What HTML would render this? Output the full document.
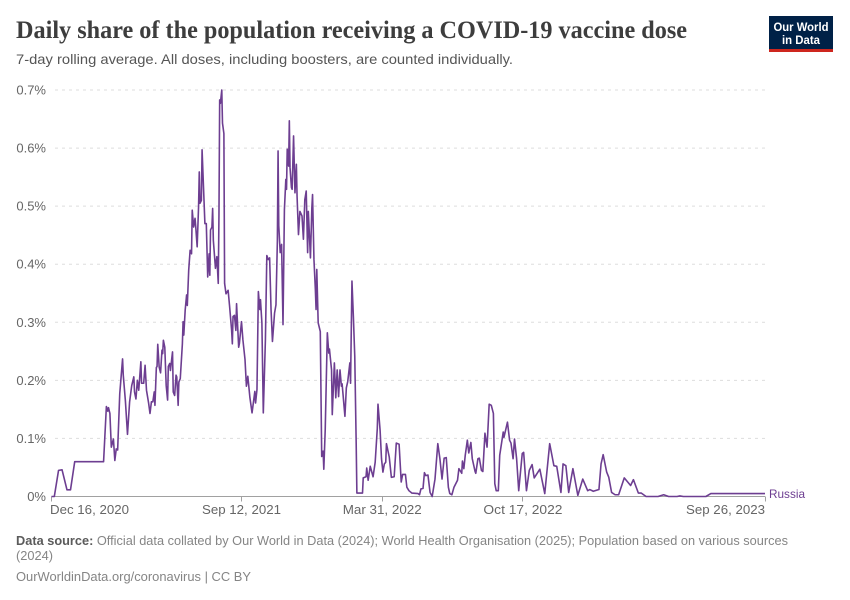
<!DOCTYPE html>
<html lang="en">
<head>
<meta charset="utf-8">
<title>Daily share of the population receiving a COVID-19 vaccine dose</title>
<style>
html,body{margin:0;padding:0;background:#fff;width:850px;height:600px;overflow:hidden}
svg{display:block;font-family:"Liberation Sans",sans-serif}
</style>
</head>
<body>
<svg id="chart" width="850" height="600" viewBox="0 0 850 600" xmlns="http://www.w3.org/2000/svg">
  <rect width="850" height="600" fill="#fff"/>
  <text x="16" y="38" font-family="'Liberation Serif',serif" font-weight="700" font-size="25" fill="#3d3d3d" textLength="671" lengthAdjust="spacingAndGlyphs">Daily share of the population receiving a COVID-19 vaccine dose</text>
  <text x="16" y="64" font-size="14" fill="#555" textLength="497" lengthAdjust="spacingAndGlyphs">7-day rolling average. All doses, including boosters, are counted individually.</text>
  <g>
    <rect x="769" y="16" width="64" height="36" fill="#002147"/>
    <rect x="769" y="49" width="64" height="3" fill="#ce261e"/>
    <text x="801" y="31" font-size="12" font-weight="700" fill="#fff" text-anchor="middle" textLength="55" lengthAdjust="spacingAndGlyphs">Our World</text>
    <text x="801" y="44" font-size="12" font-weight="700" fill="#fff" text-anchor="middle" textLength="38" lengthAdjust="spacingAndGlyphs">in Data</text>
  </g>
  <g id="y-axis"></g>
  <g id="x-axis"></g>
  <g id="series"></g>
  <text x="769" y="498" font-size="12" fill="#6d3e91" textLength="36" lengthAdjust="spacingAndGlyphs">Russia</text>
  <text x="16" y="545" font-size="13" fill="#858585" textLength="772" lengthAdjust="spacingAndGlyphs"><tspan font-weight="700" fill="#5b5b5b">Data source:</tspan> Official data collated by Our World in Data (2024); World Health Organisation (2025); Population based on various sources</text>
  <text x="16" y="560" font-size="13" fill="#858585" textLength="37" lengthAdjust="spacingAndGlyphs">(2024)</text>
  <text x="16" y="581" font-size="13" fill="#858585" textLength="235" lengthAdjust="spacingAndGlyphs">OurWorldinData.org/coronavirus | CC BY</text>
</svg>
<script>
const seriesName = 'Russia';
const dayOffsets = [
0,4,10,15,22,27,33,74,78,80,81,83,85,88,90,92,94,97,101,102,105,108,111,114,117,118,120,122,124,127,128,131,133,135,138,140,142,144,146,147,149,150,151,153,155,157,158,159,161,163,165,166,168,169,172,173,175,177,178,180,181,183,186,187,188,190,192,193,195,197,199,200,202,204,205,207,209,210,211,213,214,216,218,220,222,224,225,226,228,229,230,233,235,237,238,239,240,242,243,245,246,248,251,253,256,257,258,260,262,263,266,267,270,
272,275,277,279,282,285,289,290,292,294,296,297,299,301,304,306,308,310,312,314,317,319,321,322,323,325,327,329,331,333,334,335,337,338,339,341,342,344,346,348,349,351,353,356,358,360,362,364,365,368,370,371,373,375,376,377,379,382,384,386,387,389,392,394,395,398,399,402,404,406,408,410,412,413,417,419,421,424,425,427,429,431,433,434,
442,443,447,448,450,453,457,460,463,464,467,469,471,473,475,476,480,483,487,490,494,497,499,503,505,508,512,521,523,525,528,530,532,535,538,541,545,549,552,555,558,561,564,566,569,572,577,579,583,584,586,588,591,593,596,598,602,603,606,608,611,613,616,619,622,625,628,630,632,635,637,642,643,648,651,653,656,658,661,664,669,671,675,679,683,686,694,701,708,714,718,724,727,731,735,
741,748,755,762,765,770,778,781,784,789,792,796,801,806,814,823,827,834,838,845,862,870,877,889,893,898,930,937,1014
];
const shareValues = [
0,0,.045,.046,.0115,.0115,.06,.06,.155,.147,.153,.143,.085,.099,.062,.082,.08,.177,.237,.209,.165,.107,.163,.191,.206,.18,.168,.2,.183,.232,.195,.195,.226,.183,.161,.143,.163,.163,.18,.157,.222,.224,.262,.223,.213,.252,.246,.269,.257,.191,.166,.224,.229,.217,.249,.18,.174,.209,.206,.157,.197,.203,.263,.301,.278,.321,.347,.329,.39,.424,.418,.493,.464,.479,.464,.43,.499,.559,.505,.51,.597,.533,.47,.47,.378,.418,.381,.459,.464,.496,.441,.393,.413,.367,.487,.683,.677,.7,.643,.625,.367,.349,.355,.329,.286,.263,.31,.312,.286,.332,.257,.263,.301,
.27,.236,.19,.207,.17,.144,.181,.161,.184,.353,.322,.339,.299,.144,.27,.415,.408,.411,.322,.267,.316,.33,.44,.595,.466,.42,.434,.296,.494,.546,.529,.598,.569,.647,.566,.532,.529,.621,.523,.572,.517,.451,.491,.483,.443,.511,.526,.42,.491,.411,.497,.52,.408,.356,.322,.391,.299,.284,.069,.078,.047,.115,.282,.247,.254,.218,.141,.23,.17,.218,.172,.218,.19,.194,.138,.187,.198,.23,.195,.371,.31,.241,.092,.006,
.006,.032,.034,.049,.028,.052,.034,.059,.117,.159,.114,.065,.042,.056,.059,.091,.068,.033,.034,.092,.09,.025,.038,.038,.016,.01,.006,.005,.003,.013,.014,.041,.036,.037,.007,0,.03,.091,.065,.03,.066,.067,.016,.005,.003,.016,.028,.048,.04,.061,.048,.071,.097,.075,.093,.065,.043,.04,.065,.066,.045,.043,.109,.085,.159,.157,.143,.022,.01,.01,.071,.111,.102,.128,.097,.092,.065,.099,.065,.01,.074,.076,.01,.045,.055,.032,.047,.005,.091,.053,.052,.007,.056,.053,.007,
.048,.002,.03,.01,.012,.009,.012,.056,.072,.042,.033,.007,.003,.003,.032,.019,.029,.006,.006,0,0,.003,0,0,.001,0,0,.005,.005
];
const yTickValues = [0,.1,.2,.3,.4,.5,.6,.7];
const yTickLabels = ['0%','0.1%','0.2%','0.3%','0.4%','0.5%','0.6%','0.7%'];
const xTickDays = [0,270,470,670,1014];
const xTickLabels = ['Dec 16, 2020','Sep 12, 2021','Mar 31, 2022','Oct 17, 2022','Sep 26, 2023'];
const xDomainMax = 1014;
const yDomainMax = 0.7;

const NS = 'http://www.w3.org/2000/svg';
const plotLeft = 51.5, plotRight = 765, plotBottom = 496.5, plotTop = 90;
function xScale(day){ return plotLeft + (day / xDomainMax) * (plotRight - plotLeft); }
function yScale(v){ return plotBottom - (v / yDomainMax) * (plotBottom - plotTop); }
function make(tag, attrs){
  const el = document.createElementNS(NS, tag);
  for (const k in attrs) el.setAttribute(k, attrs[k]);
  return el;
}
const yAxisGroup = document.getElementById('y-axis');
const xAxisGroup = document.getElementById('x-axis');
const seriesGroup = document.getElementById('series');

yTickValues.forEach(function(v, i){
  const y = yScale(v);
  if (v > 0) {
    const grid = make('line', {x1: plotRight, x2: plotLeft, y1: y, y2: y, stroke: '#dddddd', 'stroke-width': 1, 'stroke-dasharray': '3,4'});
    
    
    yAxisGroup.appendChild(grid);
  }
  const label = make('text', {x: 46, y: y + 4.5, 'font-size': 13, fill: '#666', 'text-anchor': 'end'});
  
  
  label.textContent = yTickLabels[i];
  yAxisGroup.appendChild(label);
});

const baseline = make('line', {x1: plotLeft, x2: plotRight, y1: plotBottom, y2: plotBottom, stroke: '#a1a1a1', 'stroke-width': 1});


xAxisGroup.appendChild(baseline);

xTickDays.forEach(function(d, i){
  const x = Math.floor(xScale(d)) + 0.5;
  const tick = make('line', {x1: x, x2: x, y1: plotBottom, y2: plotBottom + 5, stroke: '#a1a1a1', 'stroke-width': 1});
  
  
  xAxisGroup.appendChild(tick);
  const first = i === 0, last = i === xTickDays.length - 1;
  const label = make('text', {
    x: first ? 50 : (last ? plotRight : xScale(d)),
    y: 514,
    'font-size': 13,
    fill: '#666',
    'text-anchor': first ? 'start' : (last ? 'end' : 'middle'),
    textLength: 79,
    lengthAdjust: 'spacingAndGlyphs'
  });
  
  
  label.textContent = xTickLabels[i];
  xAxisGroup.appendChild(label);
});

const pathData = dayOffsets.map(function(d, i){
  return (i ? 'L' : 'M') + xScale(d).toFixed(2) + ' ' + yScale(shareValues[i]).toFixed(2);
}).join(' ');
const line = make('path', {d: pathData, fill: 'none', stroke: '#6d3e91', 'stroke-width': 1.6, 'stroke-linejoin': 'round'});


seriesGroup.appendChild(line);
</script>
</body>
</html>
